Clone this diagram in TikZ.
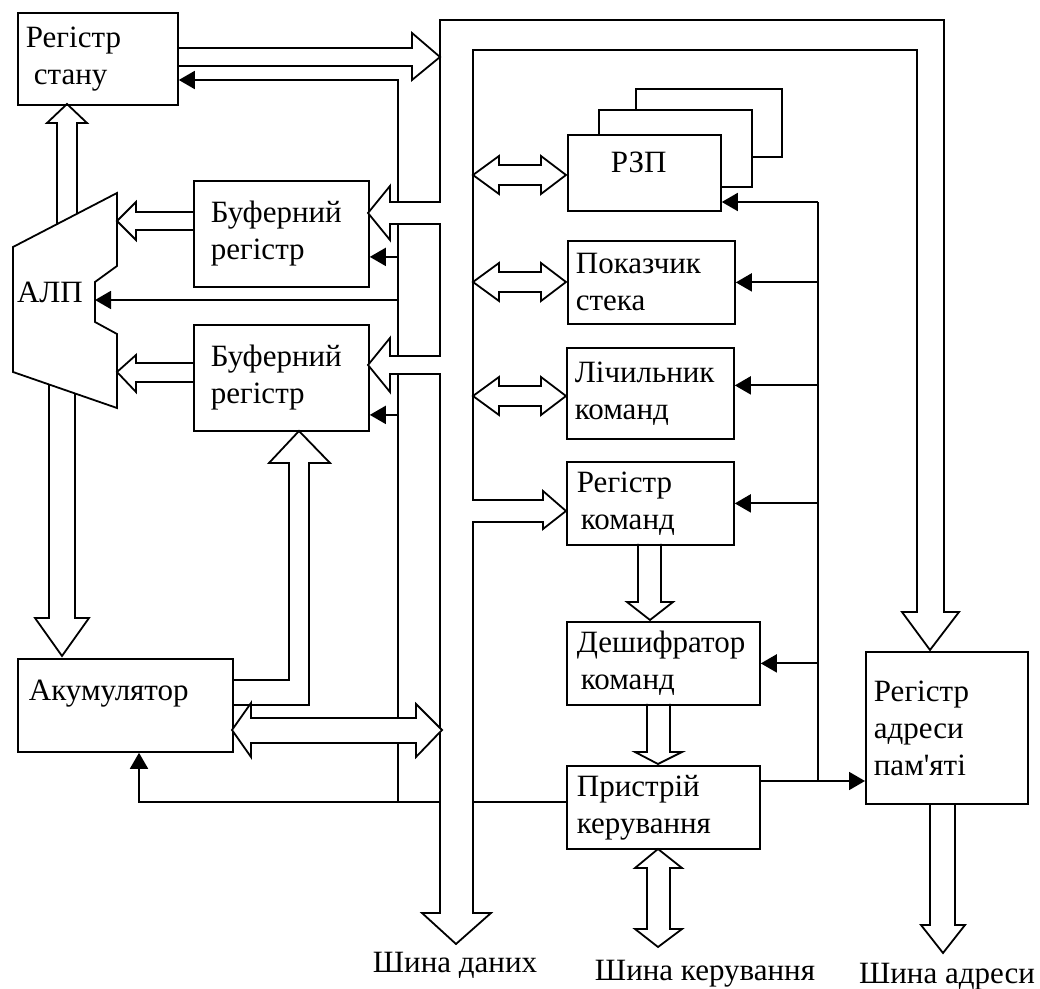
\documentclass[tikz,border=0pt]{standalone}
\usepackage{fontspec}
\setmainfont{Liberation Serif}
\usetikzlibrary{arrows.meta, calc}

\tikzset{
  blk/.style={draw, line width=0.9pt, fill=white, anchor=north west, align=left,
    font=\fontsize{15.5}{18.5}\selectfont},
  wire/.style={line width=0.9pt},
  ctl/.style={line width=0.9pt, -{Triangle[length=8pt, width=9pt]}},
  fat/.style={draw, line width=0.9pt},
  bus/.style={fat, fill=white},
  lbltext/.style={font=\fontsize{15.5}{18.5}\selectfont}
}

\begin{document}
\begin{tikzpicture}[x=0.5pt, y=-0.5pt]
  \useasboundingbox (0,0) rectangle (1040,989);

  % left part
  \node[blk, text width=72pt, inner xsep=4pt, minimum height=46pt] (stan) at (17,12) {Регістр\\\hspace*{4pt}стану};
  \node[blk, text width=70.5pt, inner xsep=8.5pt, minimum height=53pt] (buf1) at (193,180) {Буферний\\регістр};
  \node[blk, text width=70.5pt, inner xsep=8.5pt, minimum height=53pt] (buf2) at (193,324) {Буферний\\регістр};
  \node[blk, text width=96.5pt, inner xsep=5.5pt, inner ysep=0pt, text height=21pt, text depth=25.5pt] (akum) at (17,658) {Акумулятор};

  \draw[wire] (13,247) -- (117,193) -- (117,266) -- (95,282) -- (95,322) -- (117,334) -- (117,408) -- (13,372) -- cycle;
  \node[lbltext] (alu) at (50,292) {АЛП};
  \coordinate (aluin) at (95,300);

  % right column
  \node[blk, minimum width=73pt, minimum height=34pt] (rzpc) at (635,88) {};
  \node[blk, minimum width=76.5pt, minimum height=38.5pt] (rzpb) at (598,109) {};
  \node[blk, text width=33.5pt, inner xsep=21.5pt, inner ysep=0pt, text height=19pt, text depth=19pt] (rzp) at (567,134) {РЗП};
  \node[blk, text width=75.5pt, inner xsep=4pt, minimum height=41.5pt] (pokaz) at (567,240) {Показчик\\стека};
  \node[blk, text width=75.5pt, inner xsep=4pt, minimum height=45.5pt] (lich) at (566,347) {Лічильник\\команд};
  \node[blk, text width=73.5pt, inner xsep=5pt, minimum height=41.5pt] (regk) at (566,461) {Регістр\\\hspace*{2pt}команд};
  \node[blk, text width=86.5pt, inner xsep=5pt, minimum height=41.5pt] (desh) at (566,621) {Дешифратор\\\hspace*{2pt}команд};
  \node[blk, text width=86.5pt, inner xsep=5pt, minimum height=41.5pt] (prist) at (566,765) {Пристрій\\керування};
  \node[blk, text width=73pt, inner xsep=4pt, minimum height=76pt] (radr) at (865,651) {Регістр\\адреси\\пам\textquotesingle яті};

  % control lines
  \coordinate (ct) at (818,202);
  \coordinate (cb) at (818,781);
  \draw[wire] (cb) -- (ct);
  \draw[ctl] (prist.east |- cb) -- (radr.west |- cb);
  \draw[ctl] (ct) -- (rzp.east |- ct);
  \draw[ctl] (ct |- pokaz.east) -- (pokaz.east);
  \draw[ctl] ($(ct |- lich.east)+(0,4pt)$) -- ($(lich.east)+(0,4pt)$);
  \draw[ctl] (ct |- regk.east) -- (regk.east);
  \draw[ctl] (ct |- desh.east) -- (desh.east);

  \coordinate (cl) at (398,802);
  \coordinate (cs) at (398,80);
  \coordinate (ca) at (139,802);
  \draw[ctl] (prist.west |- ca) -- (ca) -- (ca |- akum.south);
  \draw[ctl] (cl) -- (cs) -- (stan.east |- cs);
  \draw[ctl] ($(cs |- buf1.east)+(0,-11.5pt)$) -- ($(buf1.east)+(0,-11.5pt)$);
  \draw[ctl] (cs |- aluin) -- (aluin);
  \draw[ctl] ($(cs |- buf2.east)+(0,-18.5pt)$) -- ($(buf2.east)+(0,-18.5pt)$);

  % data and address bus
  \draw[bus] (440,20) -- (944,20) -- (944,612) -- (959,612) -- (930,650) -- (902,612) -- (917,612) -- (917,50)
    -- (473,50) -- (473,500) -- (543,500) -- (543,491) -- (566,511) -- (543,529) -- (543,522) -- (473,522)
    -- (473,913) -- (491,913) -- (456,944) -- (422,913) -- (440,913)
    -- (440,374) -- (390,374) -- (390,392) -- (368,365) -- (390,338) -- (390,356) -- (440,356)
    -- (440,224) -- (390,224) -- (390,240) -- (368,213) -- (390,186) -- (390,202) -- (440,202) -- cycle;

  \foreach \c in {175,282,396}{
    \draw[fat] (473,\c) -- (499,\c-19) -- (499,\c-10) -- (541,\c-10) -- (541,\c-19) -- (566,\c)
      -- (541,\c+19) -- (541,\c+10) -- (499,\c+10) -- (499,\c+19) -- cycle;
  }

  % wide arrows
  \draw[fat] (177,48) -- (412,48) -- (412,33) -- (440,57) -- (412,80) -- (412,66) -- (177,66);
  \draw[fat] (57,224) -- (57,123) -- (47,123) -- (67,104) -- (87,123) -- (77,123) -- (77,214);
  \draw[fat] (49,385) -- (49,618) -- (35,618) -- (62,656) -- (89,618) -- (75,618) -- (75,394);
  \draw[fat] (193,212) -- (136,212) -- (136,202) -- (117,221) -- (136,240) -- (136,230) -- (193,230);
  \draw[fat] (193,363) -- (136,363) -- (136,355) -- (117,372) -- (136,392) -- (136,382) -- (193,382);
  \draw[fat] (232,680) -- (289,680) -- (289,463) -- (269,463) -- (299,431) -- (330,463) -- (309,463) -- (309,705) -- (232,705);
  \draw[bus] (232,730) -- (251,703) -- (251,718) -- (416,718) -- (416,704) -- (442,730) -- (416,757) -- (416,743)
    -- (251,743) -- (251,757) -- cycle;
  \draw[fat] (638,544) -- (638,602) -- (627,602) -- (650,620) -- (673,602) -- (661,602) -- (661,544);
  \draw[fat] (647,704) -- (647,752) -- (635,752) -- (658,764) -- (682,752) -- (670,752) -- (670,704);
  \draw[fat] (658,849) -- (682,868) -- (670,868) -- (670,929) -- (682,929) -- (658,947) -- (635,929) -- (647,929)
    -- (647,868) -- (635,868) -- cycle;
  \draw[fat] (930,803) -- (930,925) -- (921,925) -- (943,953) -- (965,925) -- (955,925) -- (955,803);

  % bus names
  \node[lbltext, anchor=base] (shd) at (455,972) {Шина даних};
  \node[lbltext, anchor=base] (shk) at (705,980) {Шина керування};
  \node[lbltext, anchor=base] (sha) at (947,983) {Шина адреси};
\end{tikzpicture}
\end{document}
